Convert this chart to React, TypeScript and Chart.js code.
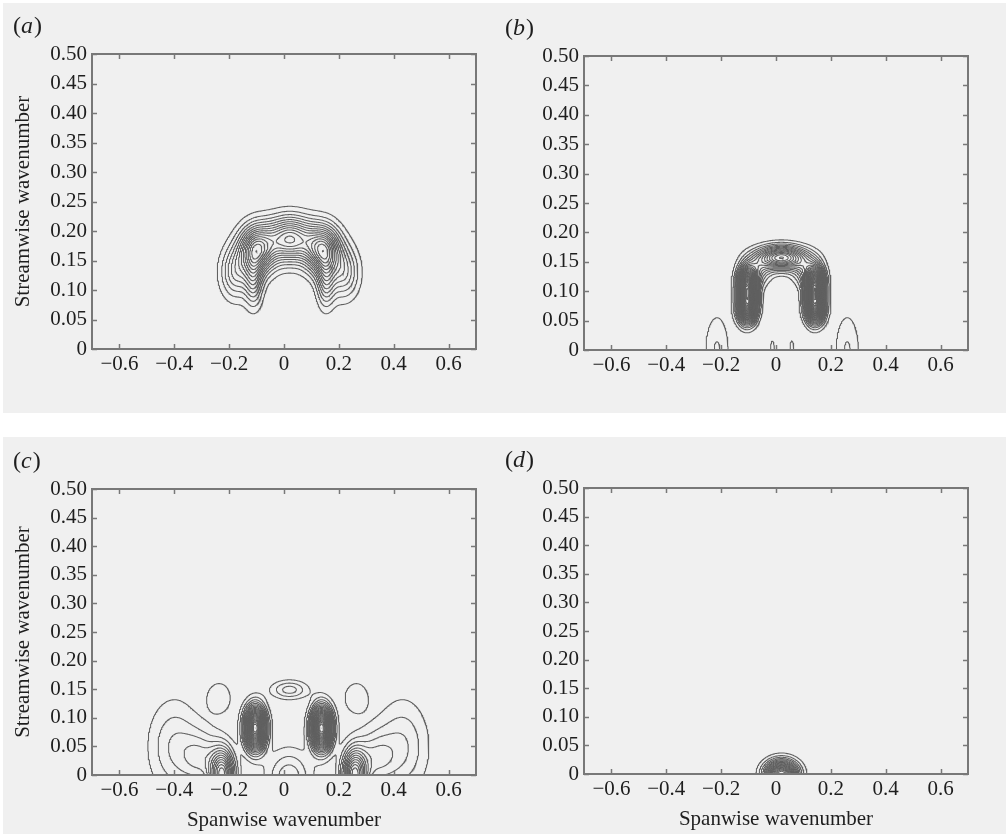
import { useEffect, useRef } from "react";
import { Chart, registerables } from "chart.js";

Chart.register(...registerables);

// Axis ticks shared by all four panels
const X_TICKS = [-0.6, -0.4, -0.2, 0, 0.2, 0.4, 0.6];
const Y_TICKS = [0, 0.05, 0.1, 0.15, 0.2, 0.25, 0.3, 0.35, 0.4, 0.45, 0.5];
const X_TITLE = "Spanwise wavenumber";
const Y_TITLE = "Streamwise wavenumber";

// Iso-levels of the spectral energy
const CONTOUR_LEVELS = [
  0.1, 0.2, 0.3, 0.4, 0.5, 0.6, 0.7, 0.8, 0.9, 1.0, 1.1, 1.2, 1.3, 1.4, 1.5, 1.6, 1.7, 1.8, 1.9, 2.0,
  2.1, 2.2, 2.3, 2.4, 2.5, 2.6, 2.7, 2.8, 2.9, 3.0, 3.1, 3.2, 3.3, 3.4, 3.5, 3.6, 3.7, 3.8, 3.9, 4.0,
];

// Energy peaks of each spectrum: centre, spread along the (tilted) axes, tilt in degrees, height
// (a)
const aPeakX = [-0.1, 0.142, 0.021, -0.11, 0.152, -0.175, 0.217];
const aPeakY = [0.168, 0.168, 0.186, 0.115, 0.115, 0.13, 0.13];
const aSpreadX = [0.042, 0.042, 0.06, 0.022, 0.022, 0.038, 0.038];
const aSpreadY = [0.027, 0.027, 0.025, 0.03, 0.03, 0.03, 0.03];
const aTilt = [0, 0, 0, 0, 0, 0, 0];
const aHeight = [1.25, 1.25, 1.2, 0.5, 0.5, 0.5, 0.5];

// (b)
const bPeakX = [0.02, -0.075, 0.115, -0.105, -0.105, 0.142, 0.142, -0.215, 0.26, -0.013, 0.058];
const bPeakY = [0.157, 0.135, 0.135, 0.075, 0.11, 0.075, 0.11, 0, 0, 0, 0];
const bSpreadX = [0.058, 0.035, 0.035, 0.022, 0.022, 0.022, 0.022, 0.033, 0.033, 0.016, 0.016];
const bSpreadY = [0.013, 0.017, 0.017, 0.018, 0.018, 0.018, 0.018, 0.045, 0.045, 0.035, 0.035];
const bTilt = [0, 0, 0, 0, 0, 0, 0, 0, 0, 0, 0];
const bHeight = [1.5, 0.5, 0.5, 2.5, 2.5, 2.5, 2.5, 0.21, 0.21, 0.11, 0.11];

// (c)
const cPeakX = [0.02, -0.236, 0.263, 0.018, -0.105, 0.137, -0.225, -0.3, -0.4, 0.257, 0.332, 0.432];
const cPeakY = [0.149, 0.135, 0.135, -0.005, 0.082, 0.082, 0, 0.03, 0.05, 0, 0.03, 0.05];
const cSpreadX = [0.045, 0.035, 0.035, 0.055, 0.025, 0.025, 0.03, 0.05, 0.065, 0.03, 0.05, 0.065];
const cSpreadY = [0.011, 0.0216, 0.0216, 0.033, 0.024, 0.024, 0.03, 0.032, 0.055, 0.03, 0.032, 0.055];
const cTilt = [0, 0, 0, 0, 0, 0, 0, 0, 0, 0, 0, 0];
const cHeight = [0.35, 0.19, 0.19, 0.38, 2.5, 2.5, 1.3, 0.35, 0.3, 1.3, 0.35, 0.3];

// (d)
const dPeakX = [0.02];
const dPeakY = [0];
const dSpreadX = [0.038];
const dSpreadY = [0.015];
const dTilt = [0];
const dHeight = [2.0];

type Peak = { x: number; y: number; sx: number; sy: number; tilt: number; h: number };
type Pt = { x: number; y: number };

function makePeaks(px: number[], py: number[], sx: number[], sy: number[], tilt: number[], h: number[]): Peak[] {
  return px.map((x, i) => ({ x, y: py[i], sx: sx[i], sy: sy[i], tilt: tilt[i], h: h[i] }));
}

// Sampling grid for the contouring
const GX0 = -0.7;
const GX1 = 0.7;
const GNX = 560;
const GY0 = 0;
const GY1 = 0.3;
const GNY = 200;

function sampleField(peaks: Peak[]): Float64Array {
  const W = GNX + 1;
  const H = GNY + 1;
  const g = new Float64Array(W * H);
  const dx = (GX1 - GX0) / GNX;
  const dy = (GY1 - GY0) / GNY;
  const pre = peaks.map((p) => {
    const t = (p.tilt * Math.PI) / 180;
    return { ...p, c: Math.cos(t), s: Math.sin(t) };
  });
  for (let j = 0; j < H; j++) {
    const y = GY0 + j * dy;
    for (let i = 0; i < W; i++) {
      const x = GX0 + i * dx;
      let v = 0;
      for (const p of pre) {
        const ex = x - p.x;
        const ey = y - p.y;
        const u = ex * p.c + ey * p.s;
        const w = -ex * p.s + ey * p.c;
        const q = (u * u) / (2 * p.sx * p.sx) + (w * w) / (2 * p.sy * p.sy);
        if (q < 40) v += p.h * Math.exp(-q);
      }
      g[j * W + i] = v;
    }
  }
  return g;
}

// Marching squares, with the segments chained into polylines separated by gaps
function contourPaths(g: Float64Array, level: number): Pt[] {
  const nx = GNX;
  const ny = GNY;
  const W = nx + 1;
  const dx = (GX1 - GX0) / nx;
  const dy = (GY1 - GY0) / ny;
  const HN = (ny + 1) * W;
  const segA: number[] = [];
  const segB: number[] = [];
  const adj = new Map<number, number[]>();
  const link = (e: number, s: number) => {
    const l = adj.get(e);
    if (l) l.push(s);
    else adj.set(e, [s]);
  };
  const add = (e1: number, e2: number) => {
    const s = segA.length;
    segA.push(e1);
    segB.push(e2);
    link(e1, s);
    link(e2, s);
  };
  for (let j = 0; j < ny; j++) {
    for (let i = 0; i < nx; i++) {
      const k = j * W + i;
      const a = g[k];
      const b = g[k + 1];
      const c = g[k + W + 1];
      const d = g[k + W];
      const idx = (a >= level ? 1 : 0) | (b >= level ? 2 : 0) | (c >= level ? 4 : 0) | (d >= level ? 8 : 0);
      if (idx === 0 || idx === 15) continue;
      const B = k;
      const T = k + W;
      const L = HN + k;
      const R = HN + k + 1;
      switch (idx) {
        case 1:
        case 14:
          add(L, B);
          break;
        case 2:
        case 13:
          add(B, R);
          break;
        case 3:
        case 12:
          add(L, R);
          break;
        case 4:
        case 11:
          add(R, T);
          break;
        case 6:
        case 9:
          add(B, T);
          break;
        case 7:
        case 8:
          add(L, T);
          break;
        case 5: {
          const m = (a + b + c + d) / 4;
          if (m >= level) {
            add(B, R);
            add(L, T);
          } else {
            add(L, B);
            add(R, T);
          }
          break;
        }
        case 10: {
          const m = (a + b + c + d) / 4;
          if (m >= level) {
            add(L, B);
            add(R, T);
          } else {
            add(B, R);
            add(L, T);
          }
          break;
        }
      }
    }
  }
  const point = (e: number): Pt => {
    if (e < HN) {
      const j = Math.floor(e / W);
      const i = e - j * W;
      const v0 = g[e];
      const v1 = g[e + 1];
      const t = (level - v0) / (v1 - v0);
      return { x: GX0 + (i + t) * dx, y: GY0 + j * dy };
    }
    const n = e - HN;
    const j = Math.floor(n / W);
    const i = n - j * W;
    const v0 = g[n];
    const v1 = g[n + W];
    const t = (level - v0) / (v1 - v0);
    return { x: GX0 + i * dx, y: GY0 + (j + t) * dy };
  };
  const used = new Uint8Array(segA.length);
  const step = (from: number): number => {
    const list = adj.get(from);
    if (!list) return -1;
    for (const s of list) {
      if (!used[s]) {
        used[s] = 1;
        return segA[s] === from ? segB[s] : segA[s];
      }
    }
    return -1;
  };
  const out: Pt[] = [];
  for (let s = 0; s < segA.length; s++) {
    if (used[s]) continue;
    used[s] = 1;
    const fwd = [segA[s], segB[s]];
    let cur = segB[s];
    for (;;) {
      const nxt = step(cur);
      if (nxt < 0) break;
      fwd.push(nxt);
      cur = nxt;
    }
    const back: number[] = [];
    cur = segA[s];
    for (;;) {
      const nxt = step(cur);
      if (nxt < 0) break;
      back.push(nxt);
      cur = nxt;
    }
    const chain = back.reverse().concat(fwd);
    for (const e of chain) out.push(point(e));
    out.push({ x: NaN, y: NaN });
  }
  return out;
}

const BG = "#f0f0f0";
const FRAME = "#787878";
const LINE = "#606060";
const TEXT = "#1e1e1e";
const SERIF = '"Liberation Serif", "Times New Roman", serif';

type PanelCfg = {
  letter: string;
  left: number;
  top: number;
  width: number;
  height: number;
  area: { l: number; t: number; r: number; b: number };
  yTitle: boolean;
  xTitle: boolean;
  peaks: Peak[];
};

const Y_AXIS_W = 60;
const X_AXIS_H = 40;

const PANELS: PanelCfg[] = [
  {
    letter: "a",
    left: 3,
    top: 3,
    width: 497,
    height: 410,
    area: { l: 89, t: 51, r: 473, b: 346 },
    yTitle: true,
    xTitle: false,
    peaks: makePeaks(aPeakX, aPeakY, aSpreadX, aSpreadY, aTilt, aHeight),
  },
  {
    letter: "b",
    left: 500,
    top: 3,
    width: 506,
    height: 410,
    area: { l: 84, t: 53, r: 468, b: 347 },
    yTitle: false,
    xTitle: false,
    peaks: makePeaks(bPeakX, bPeakY, bSpreadX, bSpreadY, bTilt, bHeight),
  },
  {
    letter: "c",
    left: 3,
    top: 437,
    width: 497,
    height: 397,
    area: { l: 89, t: 52, r: 473, b: 338 },
    yTitle: true,
    xTitle: true,
    peaks: makePeaks(cPeakX, cPeakY, cSpreadX, cSpreadY, cTilt, cHeight),
  },
  {
    letter: "d",
    left: 500,
    top: 437,
    width: 506,
    height: 397,
    area: { l: 84, t: 51, r: 468, b: 337 },
    yTitle: false,
    xTitle: true,
    peaks: makePeaks(dPeakX, dPeakY, dSpreadX, dSpreadY, dTilt, dHeight),
  },
];

const fmtX = (v: number) => (v === 0 ? "0" : (v < 0 ? "\u2212" : "") + Math.abs(v).toFixed(1));
const fmtY = (v: number) => (v === 0 ? "0" : v.toFixed(2));

function decorPlugin(cfg: PanelCfg) {
  return {
    id: "panelDecor",
    afterDraw(chart: any) {
      const { ctx, chartArea: ca, scales } = chart;
      ctx.save();
      // frame
      ctx.strokeStyle = FRAME;
      ctx.lineWidth = 2;
      ctx.strokeRect(ca.left, ca.top, ca.right - ca.left, ca.bottom - ca.top);
      // inward ticks on all four sides
      ctx.lineWidth = 1.5;
      const tl = 5;
      ctx.beginPath();
      for (const v of X_TICKS) {
        const px = Math.round(scales.x.getPixelForValue(v)) + 0.5;
        ctx.moveTo(px, ca.bottom);
        ctx.lineTo(px, ca.bottom - tl);
        ctx.moveTo(px, ca.top);
        ctx.lineTo(px, ca.top + tl);
      }
      for (const v of Y_TICKS) {
        const py = Math.round(scales.y.getPixelForValue(v)) + 0.5;
        ctx.moveTo(ca.left, py);
        ctx.lineTo(ca.left + tl, py);
        ctx.moveTo(ca.right, py);
        ctx.lineTo(ca.right - tl, py);
      }
      ctx.stroke();

      ctx.fillStyle = TEXT;
      ctx.textBaseline = "middle";
      // panel letter
      ctx.textAlign = "left";
      let x = ca.left - 79;
      const y = ca.top - 27;
      ctx.font = `24px ${SERIF}`;
      ctx.fillText("(", x, y);
      x += ctx.measureText("(").width;
      ctx.font = `italic 24px ${SERIF}`;
      ctx.fillText(cfg.letter, x, y);
      x += ctx.measureText(cfg.letter).width + 1;
      ctx.font = `24px ${SERIF}`;
      ctx.fillText(")", x, y);

      ctx.font = `21px ${SERIF}`;
      ctx.textAlign = "center";
      if (cfg.yTitle) {
        ctx.save();
        ctx.translate(ca.left - 69, (ca.top + ca.bottom) / 2);
        ctx.rotate(-Math.PI / 2);
        ctx.fillText(Y_TITLE, 0, 0);
        ctx.restore();
      }
      if (cfg.xTitle) {
        ctx.fillText(X_TITLE, (ca.left + ca.right) / 2, ca.bottom + 45);
      }
      ctx.restore();
    },
  };
}

function Panel({ cfg }: { cfg: PanelCfg }) {
  const ref = useRef<HTMLCanvasElement>(null);
  useEffect(() => {
    const canvas = ref.current;
    if (!canvas) return;
    const grid = sampleField(cfg.peaks);
    const datasets = CONTOUR_LEVELS.map((level) => ({ level, pts: contourPaths(grid, level) }))
      .filter((d) => d.pts.length > 0)
      .map((d) => ({
        label: `level ${d.level}`,
        data: d.pts,
        showLine: true,
        borderColor: LINE,
        borderWidth: 1.05,
        pointRadius: 0,
        pointHoverRadius: 0,
        fill: false,
        spanGaps: false,
        tension: 0,
      }));
    const tickFont = { family: SERIF, size: 21 };
    const chart = new Chart(canvas, {
      type: "scatter",
      data: { datasets },
      options: {
        animation: false,
        responsive: false,
        events: [],
        layout: {
          padding: {
            left: cfg.area.l - Y_AXIS_W,
            top: cfg.area.t,
            right: cfg.width - cfg.area.r,
            bottom: cfg.height - cfg.area.b - X_AXIS_H,
          },
        },
        plugins: {
          legend: { display: false },
          tooltip: { enabled: false },
          title: { display: false },
        },
        scales: {
          x: {
            type: "linear",
            min: -0.7,
            max: 0.7,
            afterBuildTicks: (s: any) => {
              s.ticks = X_TICKS.map((value) => ({ value }));
            },
            afterFit: (s: any) => {
              s.height = X_AXIS_H;
            },
            grid: { display: false, drawTicks: false },
            border: { display: false },
            ticks: {
              font: tickFont,
              color: TEXT,
              padding: 3,
              autoSkip: false,
              maxRotation: 0,
              callback: (v: any) => fmtX(Number(v)),
            },
          },
          y: {
            type: "linear",
            min: 0,
            max: 0.5,
            afterBuildTicks: (s: any) => {
              s.ticks = Y_TICKS.map((value) => ({ value }));
            },
            afterFit: (s: any) => {
              s.width = Y_AXIS_W;
            },
            grid: { display: false, drawTicks: false },
            border: { display: false },
            ticks: {
              font: tickFont,
              color: TEXT,
              padding: 5,
              autoSkip: false,
              callback: (v: any) => fmtY(Number(v)),
            },
          },
        },
      },
      plugins: [decorPlugin(cfg)],
    } as any);
    return () => chart.destroy();
  }, [cfg]);
  return (
    <canvas
      ref={ref}
      width={cfg.width}
      height={cfg.height}
      style={{ position: "absolute", left: cfg.left, top: cfg.top, width: cfg.width, height: cfg.height }}
    />
  );
}

export default function App() {
  return (
    <div
      style={{
        position: "absolute",
        left: 0,
        top: 0,
        width: 1006,
        height: 834,
        background: "#ffffff",
        overflow: "hidden",
      }}
    >
      <div style={{ position: "absolute", left: 3, top: 3, width: 1003, height: 410, background: BG }} />
      <div style={{ position: "absolute", left: 3, top: 437, width: 1003, height: 397, background: BG }} />
      {PANELS.map((p) => (
        <Panel key={p.letter} cfg={p} />
      ))}
    </div>
  );
}
